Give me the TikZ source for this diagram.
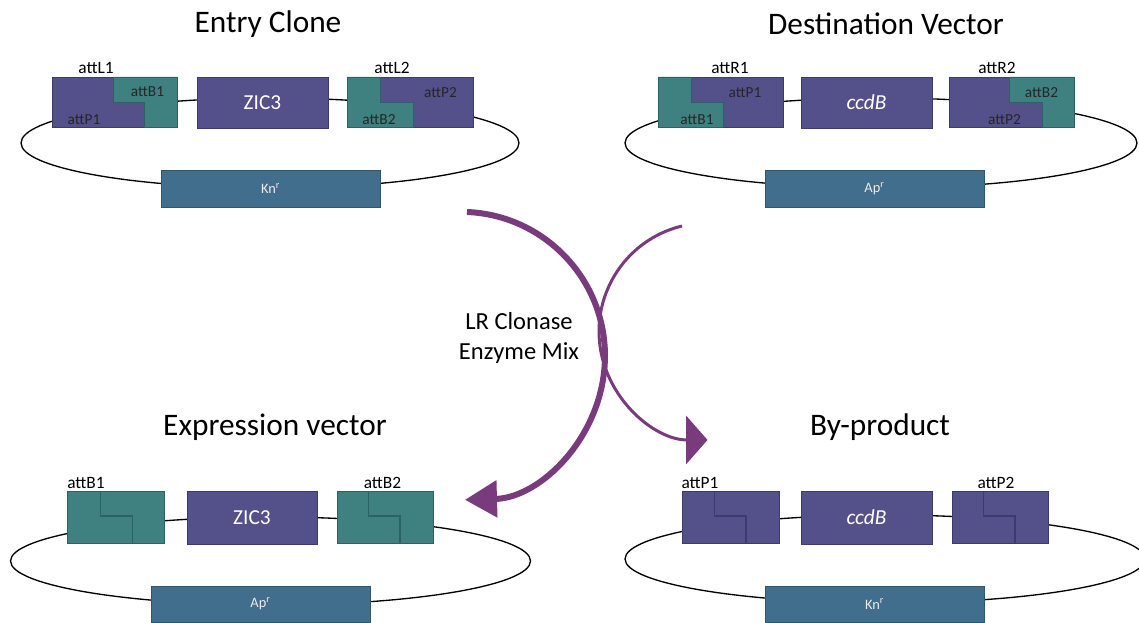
\documentclass[tikz,border=0pt]{standalone}
\usepackage{fontspec}
\setmainfont{Carlito}
\usetikzlibrary{arrows.meta}
\definecolor{vpurple}{HTML}{53508A}
\definecolor{vpurpled}{HTML}{3D3B6E}
\definecolor{vteal}{HTML}{3F8080}
\definecolor{vteald}{HTML}{2C6262}
\definecolor{vblue}{HTML}{416E8C}
\definecolor{vblued}{HTML}{2F566F}
\definecolor{varrow}{HTML}{7A3B7E}
\begin{document}
\begin{tikzpicture}[x=0.75pt,y=0.75pt,
  title/.style={font=\fontsize{23.5}{28}\selectfont, text=black},
  lab/.style={font=\fontsize{13}{15}\selectfont, text=black, inner sep=0pt},
  ilab/.style={font=\fontsize{11.5}{13}\selectfont, text=black!85, inner sep=0pt},
  btxt/.style={font=\fontsize{16}{19}\selectfont, text=white},
  mtxt/.style={font=\fontsize{10.8}{13}\selectfont, text=white!92!black},
  pbox/.style={fill=vpurple, draw=vpurpled, line width=0.7pt, inner sep=0pt},
  tbox/.style={fill=vteal, draw=vteald, line width=0.7pt, inner sep=0pt},
  rbox/.style={fill=vblue, draw=vblued, line width=0.7pt, inner sep=0pt},
  tfill/.style={fill=vteal, draw=vteald, line width=0.7pt},
  pline/.style={draw=vpurpled, line width=0.9pt},
  tline/.style={draw=vteald, line width=0.9pt},
  ring/.style={draw=black, line width=1pt},
  arr/.style={draw=varrow}
]
\useasboundingbox (0,0) rectangle (1139,-623);

% ---------------- Entry Clone ----------------
\node[title] (tEntry) at (268,-24) {Entry Clone};
\draw[ring] (270,-143) ellipse [x radius=249, y radius=45];
\node[pbox, minimum width=125*0.75pt, minimum height=50*0.75pt] (eL1) at (114.5,-102) {};
\filldraw[tfill] (113,-77) -- (177,-77) -- (177,-127) -- (144,-127) -- (144,-102) -- (113,-102) -- cycle;
\node[lab] (eL1t) at (96,-68) {attL1};
\node[ilab] (eL1b) at (147.5,-92) {attB1};
\node[ilab] (eL1p) at (84,-120) {attP1};
\node[pbox, btxt, minimum width=131*0.75pt, minimum height=51*0.75pt] (eZ) at (262.5,-102.5) {ZIC3};
\node[pbox, minimum width=126*0.75pt, minimum height=50*0.75pt] (eL2) at (410,-102) {};
\filldraw[tfill] (347,-77) -- (380,-77) -- (380,-102) -- (413,-102) -- (413,-127) -- (347,-127) -- cycle;
\node[lab] (eL2t) at (392,-68) {attL2};
\node[ilab] (eL2p) at (440.5,-92.5) {attP2};
\node[ilab] (eL2b) at (379,-120) {attB2};
\node[rbox, mtxt, minimum width=219*0.75pt, minimum height=37*0.75pt] (eK) at (270.5,-188.5) {Kn\textsuperscript{r}};

% ---------------- Destination Vector ----------------
\node[title] (tDest) at (886,-24) {Destination Vector};
\draw[ring] (881,-143) ellipse [x radius=256, y radius=45];
\node[pbox, minimum width=125*0.75pt, minimum height=50*0.75pt] (dR1) at (720.5,-102) {};
\filldraw[tfill] (658,-77) -- (691,-77) -- (691,-102) -- (723,-102) -- (723,-127) -- (658,-127) -- cycle;
\node[lab] (dR1t) at (730,-68) {attR1};
\node[ilab] (dR1p) at (745,-92.5) {attP1};
\node[ilab] (dR1b) at (697,-120) {attB1};
\node[pbox, btxt, minimum width=131*0.75pt, minimum height=51*0.75pt] (dC) at (866.5,-102.5) {\itshape ccdB};
\node[pbox, minimum width=125*0.75pt, minimum height=50*0.75pt] (dR2) at (1011.5,-102) {};
\filldraw[tfill] (1009,-77) -- (1074,-77) -- (1074,-127) -- (1042,-127) -- (1042,-102) -- (1009,-102) -- cycle;
\node[lab] (dR2t) at (997,-68) {attR2};
\node[ilab] (dR2b) at (1041.5,-92.5) {attB2};
\node[ilab] (dR2p) at (1004.5,-120) {attP2};
\node[rbox, mtxt, minimum width=219*0.75pt, minimum height=37*0.75pt] (dA) at (874.5,-188.5) {Ap\textsuperscript{r}};

% ---------------- Expression vector ----------------
\node[title] (tExpr) at (275,-427) {Expression vector};
\draw[ring] (270.5,-561) ellipse [x radius=260, y radius=44];
\node[tbox, minimum width=97*0.75pt, minimum height=52*0.75pt] (xB1) at (115.5,-517) {};
\draw[tline] (100.7,-491) -- (100.7,-516) -- (132.3,-516) -- (132.3,-543);
\node[lab] (xB1t) at (86,-483) {attB1};
\node[pbox, btxt, minimum width=130*0.75pt, minimum height=53*0.75pt] (xZ) at (252,-517.5) {ZIC3};
\node[tbox, minimum width=96*0.75pt, minimum height=52*0.75pt] (xB2) at (385,-517) {};
\draw[tline] (368.3,-491) -- (368.3,-516) -- (400,-516) -- (400,-543);
\node[lab] (xB2t) at (382.5,-483) {attB2};
\node[rbox, mtxt, minimum width=219*0.75pt, minimum height=36*0.75pt] (xA) at (260.5,-604) {Ap\textsuperscript{r}};

% ---------------- By-product ----------------
\node[title] (tBy) at (880,-427) {By-product};
\draw[ring] (885,-559) ellipse [x radius=260, y radius=44];
\node[pbox, minimum width=97*0.75pt, minimum height=52*0.75pt] (bP1) at (730.5,-517) {};
\draw[pline] (714.3,-491) -- (714.3,-516) -- (746,-516) -- (746,-543);
\node[lab] (bP1t) at (700,-483) {attP1};
\node[pbox, btxt, minimum width=131*0.75pt, minimum height=53*0.75pt] (bC) at (866.5,-517.5) {\itshape ccdB};
\node[pbox, minimum width=96*0.75pt, minimum height=52*0.75pt] (bP2) at (1000,-517) {};
\draw[pline] (983.5,-491) -- (983.5,-516) -- (1015,-516) -- (1015,-543);
\node[lab] (bP2t) at (996,-483) {attP2};
\node[rbox, mtxt, minimum width=219*0.75pt, minimum height=36*0.75pt] (bK) at (874.5,-604) {Kn\textsuperscript{r}};

% ---------------- Reaction arrows ----------------
\coordinate (a1) at (467,-212);
\coordinate (a2) at (682,-226);
\draw[arr, line width=4.5pt, -{Triangle[length=24pt,width=27pt]}]
  (a1) arc[start angle=87.6, end angle=-88.4, radius=144];
\draw[arr, line width=2.25pt, -{Triangle[length=16pt,width=36pt]}]
  (a2) arc[start angle=103.6, end angle=270, radius=108.5];
\node[font=\fontsize{18.4}{23}\selectfont, align=center, text=black] (lr) at (519,-338) {LR Clonase\\Enzyme Mix};
\end{tikzpicture}
\end{document}
